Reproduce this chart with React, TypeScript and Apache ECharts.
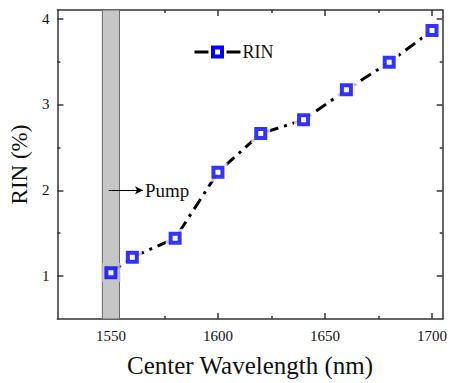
import React, { useEffect, useRef } from "react";
import * as echarts from "echarts";

const wavelengths = [1550, 1560, 1580, 1600, 1620, 1640, 1660, 1680, 1700];
const rinValues = [1.04, 1.22, 1.44, 2.21, 2.66, 2.82, 3.17, 3.49, 3.86];
const xMajorTicks = [1550, 1600, 1650, 1700];
const xMinorTicks = [1575, 1625, 1675];
const yMajorTicks = [1, 2, 3, 4];
const yMinorTicks = [1.5, 2.5, 3.5];
const pumpBand = [1546, 1554];
const pumpArrow = { from: [1549, 2.0], to: [1565, 2.0], label: "Pump" };
const legendLabel = "RIN";

const FONT = "Liberation Serif";
const AXIS_COLOR = "#333";

export default function App() {
  const ref = useRef<HTMLDivElement>(null);
  useEffect(() => {
    if (!ref.current) return;
    const chart = echarts.init(ref.current, null, { renderer: "svg" });
    const pts = wavelengths.map((w, i) => [w, rinValues[i]]);
    const xBase = { type: "value", min: 1525, max: 1705, gridIndex: 0, splitLine: { show: false } };
    const yBase = { type: "value", min: 0.5, max: 4.1, gridIndex: 0, splitLine: { show: false } };
    const line = { lineStyle: { color: AXIS_COLOR, width: 1.5 } };
    const plain = (v: number) => String(v);
    const marker = { color: "#fff", borderColor: "#0000ff", borderWidth: 4 };
    chart.setOption({
      animation: false,
      backgroundColor: "#fff",
      textStyle: { fontFamily: FONT },
      grid: { left: 57, right: 5, top: 10, bottom: 61 },
      graphic: [
        {
          type: "group",
          left: 192,
          top: 43,
          children: [
            { type: "line", shape: { x1: 0, y1: 8, x2: 14, y2: 8 }, style: { stroke: "#000", lineWidth: 3 } },
            { type: "line", shape: { x1: 32, y1: 8, x2: 46, y2: 8 }, style: { stroke: "#000", lineWidth: 3 } },
            { type: "rect", shape: { x: 18.5, y: 3.5, width: 9, height: 9 }, style: { fill: "#fff", stroke: "#0000ff", lineWidth: 4 } },
            {
              type: "text",
              x: 48,
              y: 8,
              style: { text: legendLabel, font: "18px Liberation Serif", fill: "#111", verticalAlign: "middle" },
            },
          ],
        },
      ],
      xAxis: [
        {
          ...xBase,
          position: "bottom",
          axisLine: { show: true, onZero: false, ...line },
          axisTick: { show: true, inside: true, length: 6, customValues: xMajorTicks, ...line },
          axisLabel: { show: true, customValues: xMajorTicks, formatter: plain, fontFamily: FONT, fontSize: 15, color: "#111", margin: 9 },
          name: "Center Wavelength (nm)",
          nameLocation: "middle",
          nameGap: 34,
          nameTextStyle: { fontFamily: FONT, fontSize: 25, color: "#111" },
        },
        {
          ...xBase,
          position: "bottom",
          axisLine: { show: false },
          axisTick: { show: true, inside: true, length: 3, customValues: xMinorTicks, ...line },
          axisLabel: { show: false },
        },
        {
          ...xBase,
          position: "top",
          axisLine: { show: true, onZero: false, ...line },
          axisTick: { show: true, inside: true, length: 6, customValues: xMajorTicks, ...line },
          axisLabel: { show: false },
        },
        {
          ...xBase,
          position: "top",
          axisLine: { show: false },
          axisTick: { show: true, inside: true, length: 3, customValues: xMinorTicks, ...line },
          axisLabel: { show: false },
        },
      ],
      yAxis: [
        {
          ...yBase,
          position: "left",
          axisLine: { show: true, onZero: false, ...line },
          axisTick: { show: true, inside: true, length: 6, customValues: yMajorTicks, ...line },
          axisLabel: { show: true, customValues: yMajorTicks, formatter: plain, fontFamily: FONT, fontSize: 15, color: "#111", margin: 8 },
          name: "RIN (%)",
          nameLocation: "middle",
          nameGap: 24,
          nameTextStyle: { fontFamily: FONT, fontSize: 23, color: "#111" },
        },
        {
          ...yBase,
          position: "left",
          axisLine: { show: false },
          axisTick: { show: true, inside: true, length: 3, customValues: yMinorTicks, ...line },
          axisLabel: { show: false },
        },
        {
          ...yBase,
          position: "right",
          axisLine: { show: true, onZero: false, ...line },
          axisTick: { show: true, inside: true, length: 6, customValues: yMajorTicks, ...line },
          axisLabel: { show: false },
        },
        {
          ...yBase,
          position: "right",
          axisLine: { show: false },
          axisTick: { show: true, inside: true, length: 3, customValues: yMinorTicks, ...line },
          axisLabel: { show: false },
        },
      ],
      series: [
        {
          name: "RIN",
          type: "line",
          data: pts,
          symbol: "none",
          z: 2,
          lineStyle: { color: "#000", width: 3, type: [12, 6, 3, 6] },
          markArea: {
            silent: true,
            itemStyle: { color: "#c6c6c6", borderColor: "#666", borderWidth: 1 },
            data: [[{ xAxis: pumpBand[0], yAxis: 0.5 }, { xAxis: pumpBand[1], yAxis: 4.1 }]],
          },
          markLine: {
            silent: true,
            symbolSize: [6, 8],
            lineStyle: { color: "#000", width: 1, type: "solid" },
            label: {
              show: true,
              position: "end",
              formatter: pumpArrow.label,
              fontFamily: FONT,
              fontSize: 19,
              color: "#111",
              distance: 2,
            },
            data: [
              [
                { coord: pumpArrow.from, symbol: "none" },
                { coord: pumpArrow.to, symbol: "arrow" },
              ],
            ],
          },
        },
        {
          name: "halo",
          type: "scatter",
          data: pts.map((p) => ({
            value: p,
            itemStyle: { color: p[0] >= pumpBand[0] && p[0] <= pumpBand[1] ? "#c6c6c6" : "#fff" },
          })),
          symbol: "rect",
          symbolSize: 19,
          z: 3,
          silent: true,
        },
        {
          name: "markers",
          type: "scatter",
          data: pts,
          symbol: "rect",
          symbolSize: 9,
          z: 4,
          silent: true,
          itemStyle: marker,
        },
      ],
    });
    return () => chart.dispose();
  }, []);
  return (
    <div
      ref={ref}
      style={{ position: "fixed", left: 0, top: 0, width: 450, height: 383, background: "#fff" }}
    />
  );
}
